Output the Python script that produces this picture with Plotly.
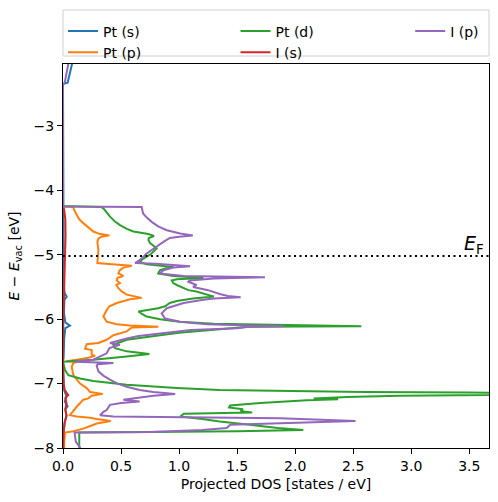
import plotly.graph_objects as go

# ---- data (energy in eV, DOS in states/eV) ----
pt_s_energy = [-2.00, -2.20, -2.33, -2.35, -4.25, -4.27, -5.00, -5.50, -5.60, -5.65, -5.70, -5.90,
               -6.05, -6.10, -6.14, -6.30, -6.60, -6.66, -6.90, -7.10, -7.20, -7.28, -7.35, -7.40,
               -7.50, -7.60, -7.75, -8.00]
pt_s_dos = [0.083, 0.060, 0.040, 0.0, 0.0, 0.003, 0.003, 0.006, 0.015, 0.032, 0.012, 0.008,
            0.020, 0.060, 0.020, 0.010, 0.005, 0.0, 0.004, 0.010, 0.030, 0.015, 0.040, 0.020,
            0.030, 0.015, 0.005, 0.003]

pt_p_energy = [-2.35, -4.25, -4.26, -4.30, -4.38, -4.45, -4.51, -4.58, -4.64, -4.68, -4.70, -4.72,
               -4.75, -4.80, -4.93, -5.05, -5.13, -5.15, -5.17, -5.20, -5.24, -5.29, -5.33, -5.36,
               -5.40, -5.44, -5.47, -5.52, -5.57, -5.62, -5.67, -5.69, -5.75, -5.80, -5.86, -5.96,
               -6.04, -6.08, -6.10, -6.12, -6.13, -6.19, -6.25, -6.32, -6.37, -6.39, -6.46, -6.48,
               -6.55, -6.57, -6.60, -6.63, -6.655, -6.665, -6.68, -6.74, -6.87, -7.00, -7.07, -7.13,
               -7.16, -7.19, -7.23, -7.25, -7.36, -7.49, -7.51, -7.53, -7.55, -7.58, -7.62, -7.65,
               -7.70, -7.74, -7.76, -7.90, -8.00]
pt_p_dos = [0.0, 0.0, 0.090, 0.095, 0.118, 0.140, 0.175, 0.220, 0.261, 0.320, 0.400, 0.330,
            0.305, 0.296, 0.305, 0.300, 0.296, 0.450, 0.592, 0.520, 0.490, 0.477, 0.520, 0.470,
            0.463, 0.490, 0.460, 0.477, 0.506, 0.549, 0.678, 0.578, 0.463, 0.400, 0.376, 0.348,
            0.376, 0.463, 0.578, 0.822, 0.592, 0.549, 0.434, 0.376, 0.305, 0.204, 0.190, 0.247,
            0.247, 0.276, 0.218, 0.120, 0.030, 0.118, 0.089, 0.075, 0.089, 0.147, 0.204, 0.233,
            0.342, 0.247, 0.218, 0.175, 0.118, 0.060, 0.118, 0.233, 0.290, 0.411, 0.290, 0.247,
            0.175, 0.089, 0.017, 0.010, 0.010]

pt_d_energy = [-2.35, -4.245, -4.26, -4.28, -4.35, -4.41, -4.48, -4.54, -4.60, -4.64, -4.68, -4.71,
               -4.74, -4.77, -4.82, -4.87, -4.90, -4.95, -5.00, -5.06, -5.11, -5.15, -5.17, -5.19,
               -5.21, -5.24, -5.29, -5.33, -5.36, -5.38, -5.40, -5.44, -5.47, -5.52, -5.55, -5.57,
               -5.60, -5.63, -5.65, -5.68, -5.72, -5.75, -5.80, -5.83, -5.86, -5.88, -5.92, -5.96,
               -6.00, -6.04, -6.07, -6.09, -6.11, -6.12, -6.14, -6.17, -6.21, -6.25, -6.32, -6.40,
               -6.45, -6.50, -6.54, -6.58, -6.61, -6.63, -6.65, -6.66, -6.79, -6.87, -6.92, -6.96,
               -7.02, -7.07, -7.10, -7.12, -7.13, -7.14, -7.155, -7.175, -7.19, -7.21, -7.23, -7.245,
               -7.26, -7.30, -7.34, -7.37, -7.40, -7.43, -7.45, -7.47, -7.51, -7.55, -7.59, -7.64,
               -7.69, -7.72, -7.74, -7.75, -7.76, -7.85, -8.00]
pt_d_dos = [0.0, 0.0, 0.330, 0.348, 0.380, 0.405, 0.445, 0.491, 0.550, 0.606, 0.735, 0.784,
            0.740, 0.736, 0.750, 0.790, 0.807, 0.780, 0.750, 0.693, 0.660, 0.720, 0.850, 0.950,
            0.890, 0.836, 0.820, 0.950, 1.210, 0.980, 0.937, 0.950, 0.980, 1.040, 1.080, 1.150,
            1.200, 1.250, 1.300, 1.120, 0.980, 0.920, 0.880, 0.820, 0.700, 0.650, 0.680, 0.720,
            0.836, 1.000, 1.300, 1.900, 2.570, 1.600, 1.450, 1.300, 1.000, 0.836, 0.549, 0.434,
            0.448, 0.549, 0.744, 0.549, 0.405, 0.261, 0.100, 0.0, 0.017, 0.046, 0.147, 0.261,
            0.549, 0.980, 1.350, 2.000, 2.600, 3.500, 4.300, 3.900, 2.900, 2.450, 2.160, 2.370,
            2.100, 1.700, 1.440, 1.430, 1.550, 1.530, 1.630, 1.040, 1.010, 1.200, 1.350, 1.610,
            1.850, 2.070, 1.500, 0.750, 0.140, 0.140, 0.140]

i_s_energy = [-2.35, -4.25, -4.30, -4.45, -4.70, -5.00, -5.30, -5.60, -6.00, -6.66, -7.00, -7.10,
              -7.15, -7.18, -7.22, -7.30, -7.40, -7.50, -7.60, -7.75, -8.00]
i_s_dos = [0.0, 0.0, 0.010, 0.020, 0.022, 0.018, 0.012, 0.005, 0.003, 0.0, 0.005, 0.015,
           0.035, 0.045, 0.020, 0.030, 0.020, 0.030, 0.015, 0.005, 0.002]

i_p_energy = [-2.00, -2.20, -2.33, -2.35, -4.25, -4.26, -4.29, -4.36, -4.42, -4.49, -4.56, -4.62,
              -4.67, -4.70, -4.72, -4.74, -4.80, -4.87, -4.98, -5.08, -5.13, -5.14, -5.16, -5.18,
              -5.20, -5.24, -5.29, -5.33, -5.35, -5.37, -5.40, -5.42, -5.47, -5.50, -5.55, -5.57,
              -5.61, -5.64, -5.66, -5.68, -5.70, -5.75, -5.83, -5.91, -5.99, -6.04, -6.08, -6.10,
              -6.11, -6.12, -6.14, -6.17, -6.22, -6.26, -6.30, -6.34, -6.37, -6.40, -6.45, -6.53,
              -6.58, -6.63, -6.66, -6.67, -6.68, -6.70, -6.72, -6.81, -6.88, -6.94, -7.00, -7.05,
              -7.10, -7.13, -7.16, -7.19, -7.22, -7.25, -7.28, -7.30, -7.33, -7.41, -7.44, -7.49,
              -7.51, -7.52, -7.54, -7.58, -7.61, -7.64, -7.69, -7.72, -7.75, -7.76, -7.90, -7.97,
              -8.00]
i_p_dos = [0.050, 0.030, 0.015, 0.0, 0.0, 0.678, 0.680, 0.690, 0.720, 0.764, 0.820, 0.894,
           1.010, 1.118, 1.000, 0.920, 0.865, 0.807, 0.721, 0.664, 0.621, 0.800, 1.000, 1.095,
           0.950, 0.865, 0.836, 1.040, 1.740, 1.300, 1.090, 1.080, 1.150, 1.120, 1.250, 1.280,
           1.350, 1.420, 1.530, 1.300, 1.210, 1.040, 0.894, 0.850, 0.879, 1.010, 1.240, 1.600,
           1.910, 1.600, 1.500, 1.100, 0.836, 0.650, 0.549, 0.460, 0.405, 0.490, 0.400, 0.376,
           0.319, 0.261, 0.100, 0.250, 0.434, 0.300, 0.290, 0.305, 0.350, 0.405, 0.470, 0.549,
           0.660, 0.779, 0.966, 0.779, 0.620, 0.520, 0.660, 0.500, 0.405, 0.376, 0.348, 0.319,
           0.434, 1.010, 1.870, 2.520, 1.900, 1.440, 1.410, 1.200, 0.750, 0.100, 0.110, 0.140,
           0.150]

series_names = ["Pt (s)", "Pt (p)", "Pt (d)", "I (s)", "I (p)"]
fermi_level = -5.02
x_ticks = [0.0, 0.5, 1.0, 1.5, 2.0, 2.5, 3.0, 3.5]
y_ticks = [-8, -7, -6, -5, -4, -3]

colors = ["#1f77b4", "#ff7f0e", "#2ca02c", "#d62728", "#9467bd"]
series = [(pt_s_energy, pt_s_dos), (pt_p_energy, pt_p_dos), (pt_d_energy, pt_d_dos),
          (i_s_energy, i_s_dos), (i_p_energy, i_p_dos)]
legend_ids = ["legend", "legend", "legend2", "legend2", "legend3"]

FONT = "DejaVu Sans"
fig = go.Figure()
for name, (e, d), c, lg in zip(series_names, series, colors, legend_ids):
    fig.add_trace(go.Scatter(x=d, y=e, mode="lines", name=name,
                             line=dict(color=c, width=2), legend=lg))

# Fermi level
fig.add_shape(type="line", xref="x domain", yref="y", x0=0, x1=1,
              y0=fermi_level, y1=fermi_level,
              line=dict(color="black", width=2, dash="2px,3.5px"))
fig.add_annotation(x=3.645, y=fermi_level, xref="x", yref="y", xanchor="right",
                   yanchor="bottom", showarrow=False, text="<i>E</i><sub>F</sub>",
                   font=dict(family=FONT, size=19, color="black"), yshift=-3)

# legend frame
fig.add_shape(type="rect", xref="paper", yref="paper", x0=0.0, x1=1.0,
              y0=(448 - 56) / 384, y1=(448 - 10) / 384,
              line=dict(color="#d0d0d0", width=1), fillcolor="rgba(255,255,255,0.8)",
              layer="below")

leg_common = dict(yanchor="top", xanchor="left", y=(448 - 15.5) / 384,
                  bgcolor="rgba(0,0,0,0)", borderwidth=0, tracegroupgap=0,
                  font=dict(family=FONT, size=14, color="black"))
fig.update_layout(
    width=498, height=502,
    margin=dict(l=63, r=9, t=64, b=54, autoexpand=False),
    paper_bgcolor="white", plot_bgcolor="white",
    font=dict(family=FONT, size=14, color="black"),
    legend=dict(x=0.0, **leg_common),
    legend2=dict(x=0.405, **leg_common),
    legend3=dict(x=0.815, **leg_common),
    xaxis=dict(range=[0, 3.67], tickvals=x_ticks, tickformat=".1f", automargin=False,
               showline=True, mirror=True, linecolor="black", linewidth=1,
               ticks="outside", ticklen=5, tickwidth=1, tickcolor="black",
               showgrid=False, zeroline=False,
               title=dict(text="Projected DOS [states / eV]", standoff=6,
                          font=dict(family=FONT, size=14))),
    yaxis=dict(range=[-8, -2.04], tickvals=y_ticks, automargin=False,
               showline=True, mirror=True, linecolor="black", linewidth=1,
               ticks="outside", ticklen=5, tickwidth=1, tickcolor="black",
               showgrid=False, zeroline=False,
               title=dict(text="<i>E</i> − <i>E</i><sub>vac</sub> [eV]", standoff=10,
                          font=dict(family=FONT, size=14))),
)

fig.write_html("out.html", config={"displayModeBar": False},
               post_script="document.body.style.margin='0';document.body.style.padding='0';")
